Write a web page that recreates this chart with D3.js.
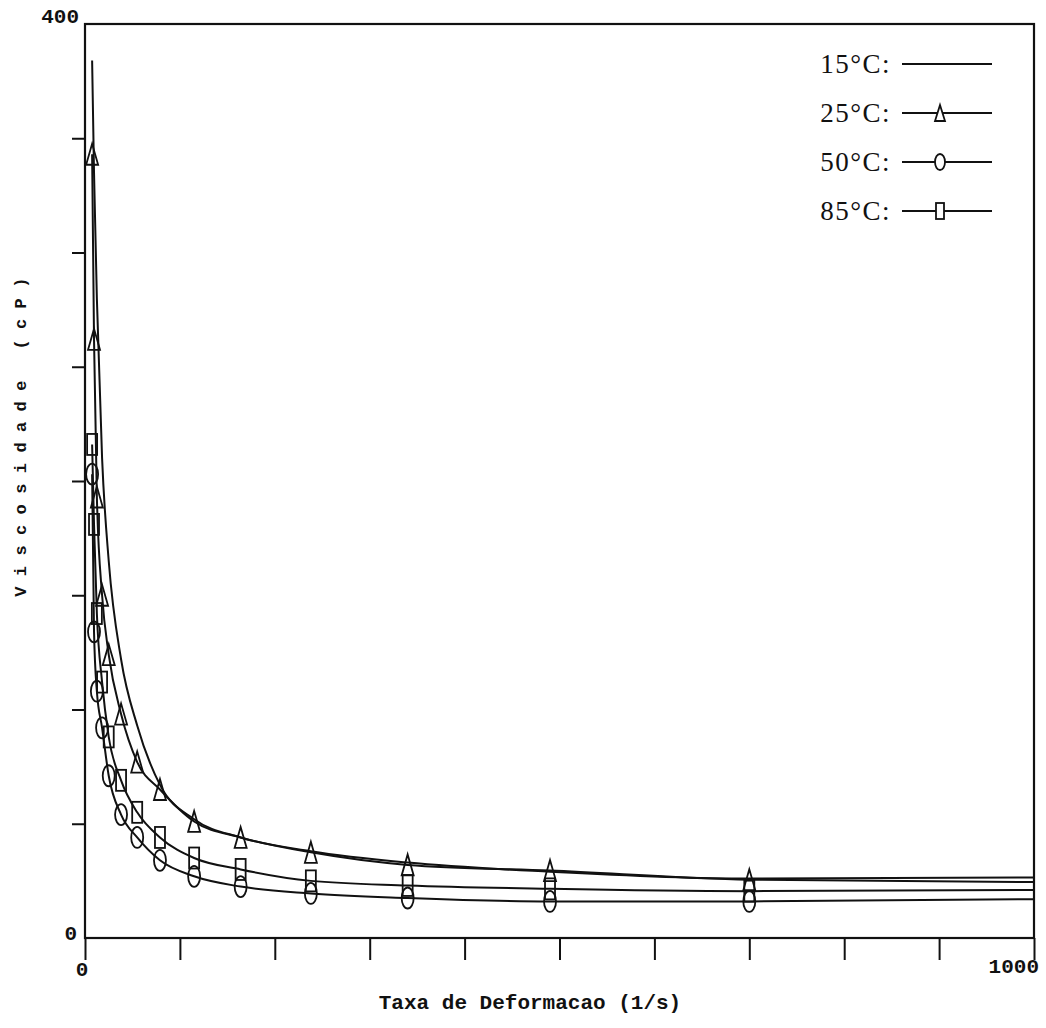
<!DOCTYPE html>
<html>
<head>
<meta charset="utf-8">
<script src="https://cdn.jsdelivr.net/npm/d3@7"></script>
<style>
  body { margin: 0; background: #fff; }
  .num { font-family: "Liberation Mono", "DejaVu Sans Mono", monospace; font-weight: bold; fill: #111; }
  .leg { font-family: "Liberation Serif", "DejaVu Serif", serif; fill: #111; }
</style>
</head>
<body>
<div id="chart"></div>
<script>
// shear rates where the points were measured (1/s)
var shearRate = [7.5, 9.5, 12.5, 18, 25, 38, 55, 79, 115, 164, 238, 340, 490, 700];

// viscosity (cP)
var visc15 = [384, 335, 280, 210, 165, 122, 93, 67, 52, 44, 38, 33, 29, 26];
var visc25 = [343, 262, 193, 150, 124, 98, 77, 65, 51, 44, 37.5, 32, 29.5, 25.5];
var visc50 = [203, 134, 108, 92, 71, 54, 44, 34, 27, 22.5, 19.5, 17.5, 16, 16];
var visc85 = [216, 181, 142, 112, 88, 69, 55, 44, 35, 30, 25, 23, 21.5, 20.5];

// the drawn curves run on to the right edge
var tailRate = 1000;
var tailVisc = [26.5, 24.5, 17, 21];

var legendLabels = ["15\u00b0C:", "25\u00b0C:", "50\u00b0C:", "85\u00b0C:"];
var markerTypes = ["none", "triangle", "circle", "square"];

var xTicks = [0, 100, 200, 300, 400, 500, 600, 700, 800, 900, 1000];
var yTicks = [50, 100, 150, 200, 250, 300, 350];

var svgWidth = 1046;
var svgHeight = 1028;

var margin = { top: 24, right: 12, bottom: 90, left: 85 };
var width = svgWidth - margin.left - margin.right;
var height = svgHeight - margin.top - margin.bottom;

var svg = d3.select("#chart").append("svg")
  .attr("width", svgWidth)
  .attr("height", svgHeight);

var chartGroup = svg.append("g")
  .attr("transform", `translate(${margin.left}, ${margin.top})`);

var xScale = d3.scaleLinear().domain([0, 1000]).range([0, width]);
var yScale = d3.scaleLinear().domain([0, 400]).range([height, 0]);

// frame
chartGroup.append("rect")
  .attr("x", 0).attr("y", 0)
  .attr("width", width).attr("height", height)
  .attr("fill", "none")
  .attr("stroke", "#111")
  .attr("stroke-width", 2.2);

// ticks only, labels go in by hand
var bottomAxis = d3.axisBottom(xScale).tickValues(xTicks).tickSize(22).tickFormat("");
var leftAxis = d3.axisLeft(yScale).tickValues(yTicks).tickSize(13).tickFormat("");

chartGroup.append("g")
  .attr("transform", `translate(0, ${height})`)
  .call(bottomAxis)
  .call(g => g.select(".domain").remove())
  .selectAll("line").attr("stroke", "#111").attr("stroke-width", 2);

chartGroup.append("g")
  .call(leftAxis)
  .call(g => g.select(".domain").remove())
  .selectAll("line").attr("stroke", "#111").attr("stroke-width", 2);

// end labels
svg.append("text").attr("class", "num").attr("font-size", 21)
  .attr("x", margin.left - 6).attr("y", margin.top - 1)
  .attr("text-anchor", "end").text("400");
svg.append("text").attr("class", "num").attr("font-size", 21)
  .attr("x", margin.left - 8).attr("y", margin.top + yScale(0) + 2)
  .attr("text-anchor", "end").text("0");
svg.append("text").attr("class", "num").attr("font-size", 21)
  .attr("x", margin.left + xScale(0) - 3).attr("y", 976)
  .attr("text-anchor", "middle").text("0");
svg.append("text").attr("class", "num").attr("font-size", 21)
  .attr("x", margin.left + xScale(1000) + 5).attr("y", 973)
  .attr("text-anchor", "end").text("1000");

// axis titles
svg.append("text").attr("class", "num").attr("font-size", 21)
  .attr("x", 530).attr("y", 1009)
  .attr("text-anchor", "middle")
  .text("Taxa de Deformacao (1/s)");

svg.append("text").attr("class", "num").attr("font-size", 17)
  .attr("letter-spacing", 10.4)
  .attr("transform", "translate(26, 432) rotate(-90)")
  .attr("text-anchor", "middle")
  .text("Viscosidade (cP)");

var seriesValues = [visc15, visc25, visc50, visc85];

var line = d3.line()
  .x(d => xScale(d[0]))
  .y(d => yScale(d[1]))
  .curve(d3.curveMonotoneX);

function drawMarker(g, type, cx, cy, w, h, fill) {
  if (type === "triangle") {
    g.append("path")
      .attr("d", `M${cx},${cy - h / 2}L${cx + w / 2},${cy + h / 2}L${cx - w / 2},${cy + h / 2}Z`)
      .attr("fill", fill).attr("stroke", "#111").attr("stroke-width", 1.8);
  }
  else if (type === "circle") {
    g.append("ellipse")
      .attr("cx", cx).attr("cy", cy).attr("rx", w / 2).attr("ry", h / 2)
      .attr("fill", fill).attr("stroke", "#111").attr("stroke-width", 1.8);
  }
  else if (type === "square") {
    g.append("rect")
      .attr("x", cx - w / 2 + 1).attr("y", cy - h / 2)
      .attr("width", w - 2).attr("height", h)
      .attr("fill", fill).attr("stroke", "#111").attr("stroke-width", 1.8);
  }
}

seriesValues.forEach(function(values, i) {
  var pts = shearRate.map((s, j) => [s, values[j]]);
  pts.push([tailRate, tailVisc[i]]);

  chartGroup.append("path")
    .datum(pts)
    .attr("d", line)
    .attr("fill", "none")
    .attr("stroke", "#111")
    .attr("stroke-width", 2);

  if (markerTypes[i] !== "none") {
    var mg = chartGroup.append("g");
    shearRate.forEach(function(s, j) {
      drawMarker(mg, markerTypes[i], xScale(s), yScale(values[j]), 12, 21, "none");
    });
  }
});

// legend
var legendBase = [73, 122, 171, 220];
legendLabels.forEach(function(label, i) {
  var lg = svg.append("g");
  var ly = legendBase[i] - 9;
  lg.append("text").attr("class", "leg").attr("font-size", 27)
    .attr("letter-spacing", 1.5)
    .attr("x", 891).attr("y", legendBase[i])
    .attr("text-anchor", "end").text(label);
  lg.append("line")
    .attr("x1", 902).attr("x2", 992).attr("y1", ly).attr("y2", ly)
    .attr("stroke", "#111").attr("stroke-width", 2);
  drawMarker(lg, markerTypes[i], 940, ly, 10, 16, "#fff");
});
</script>
</body>
</html>
